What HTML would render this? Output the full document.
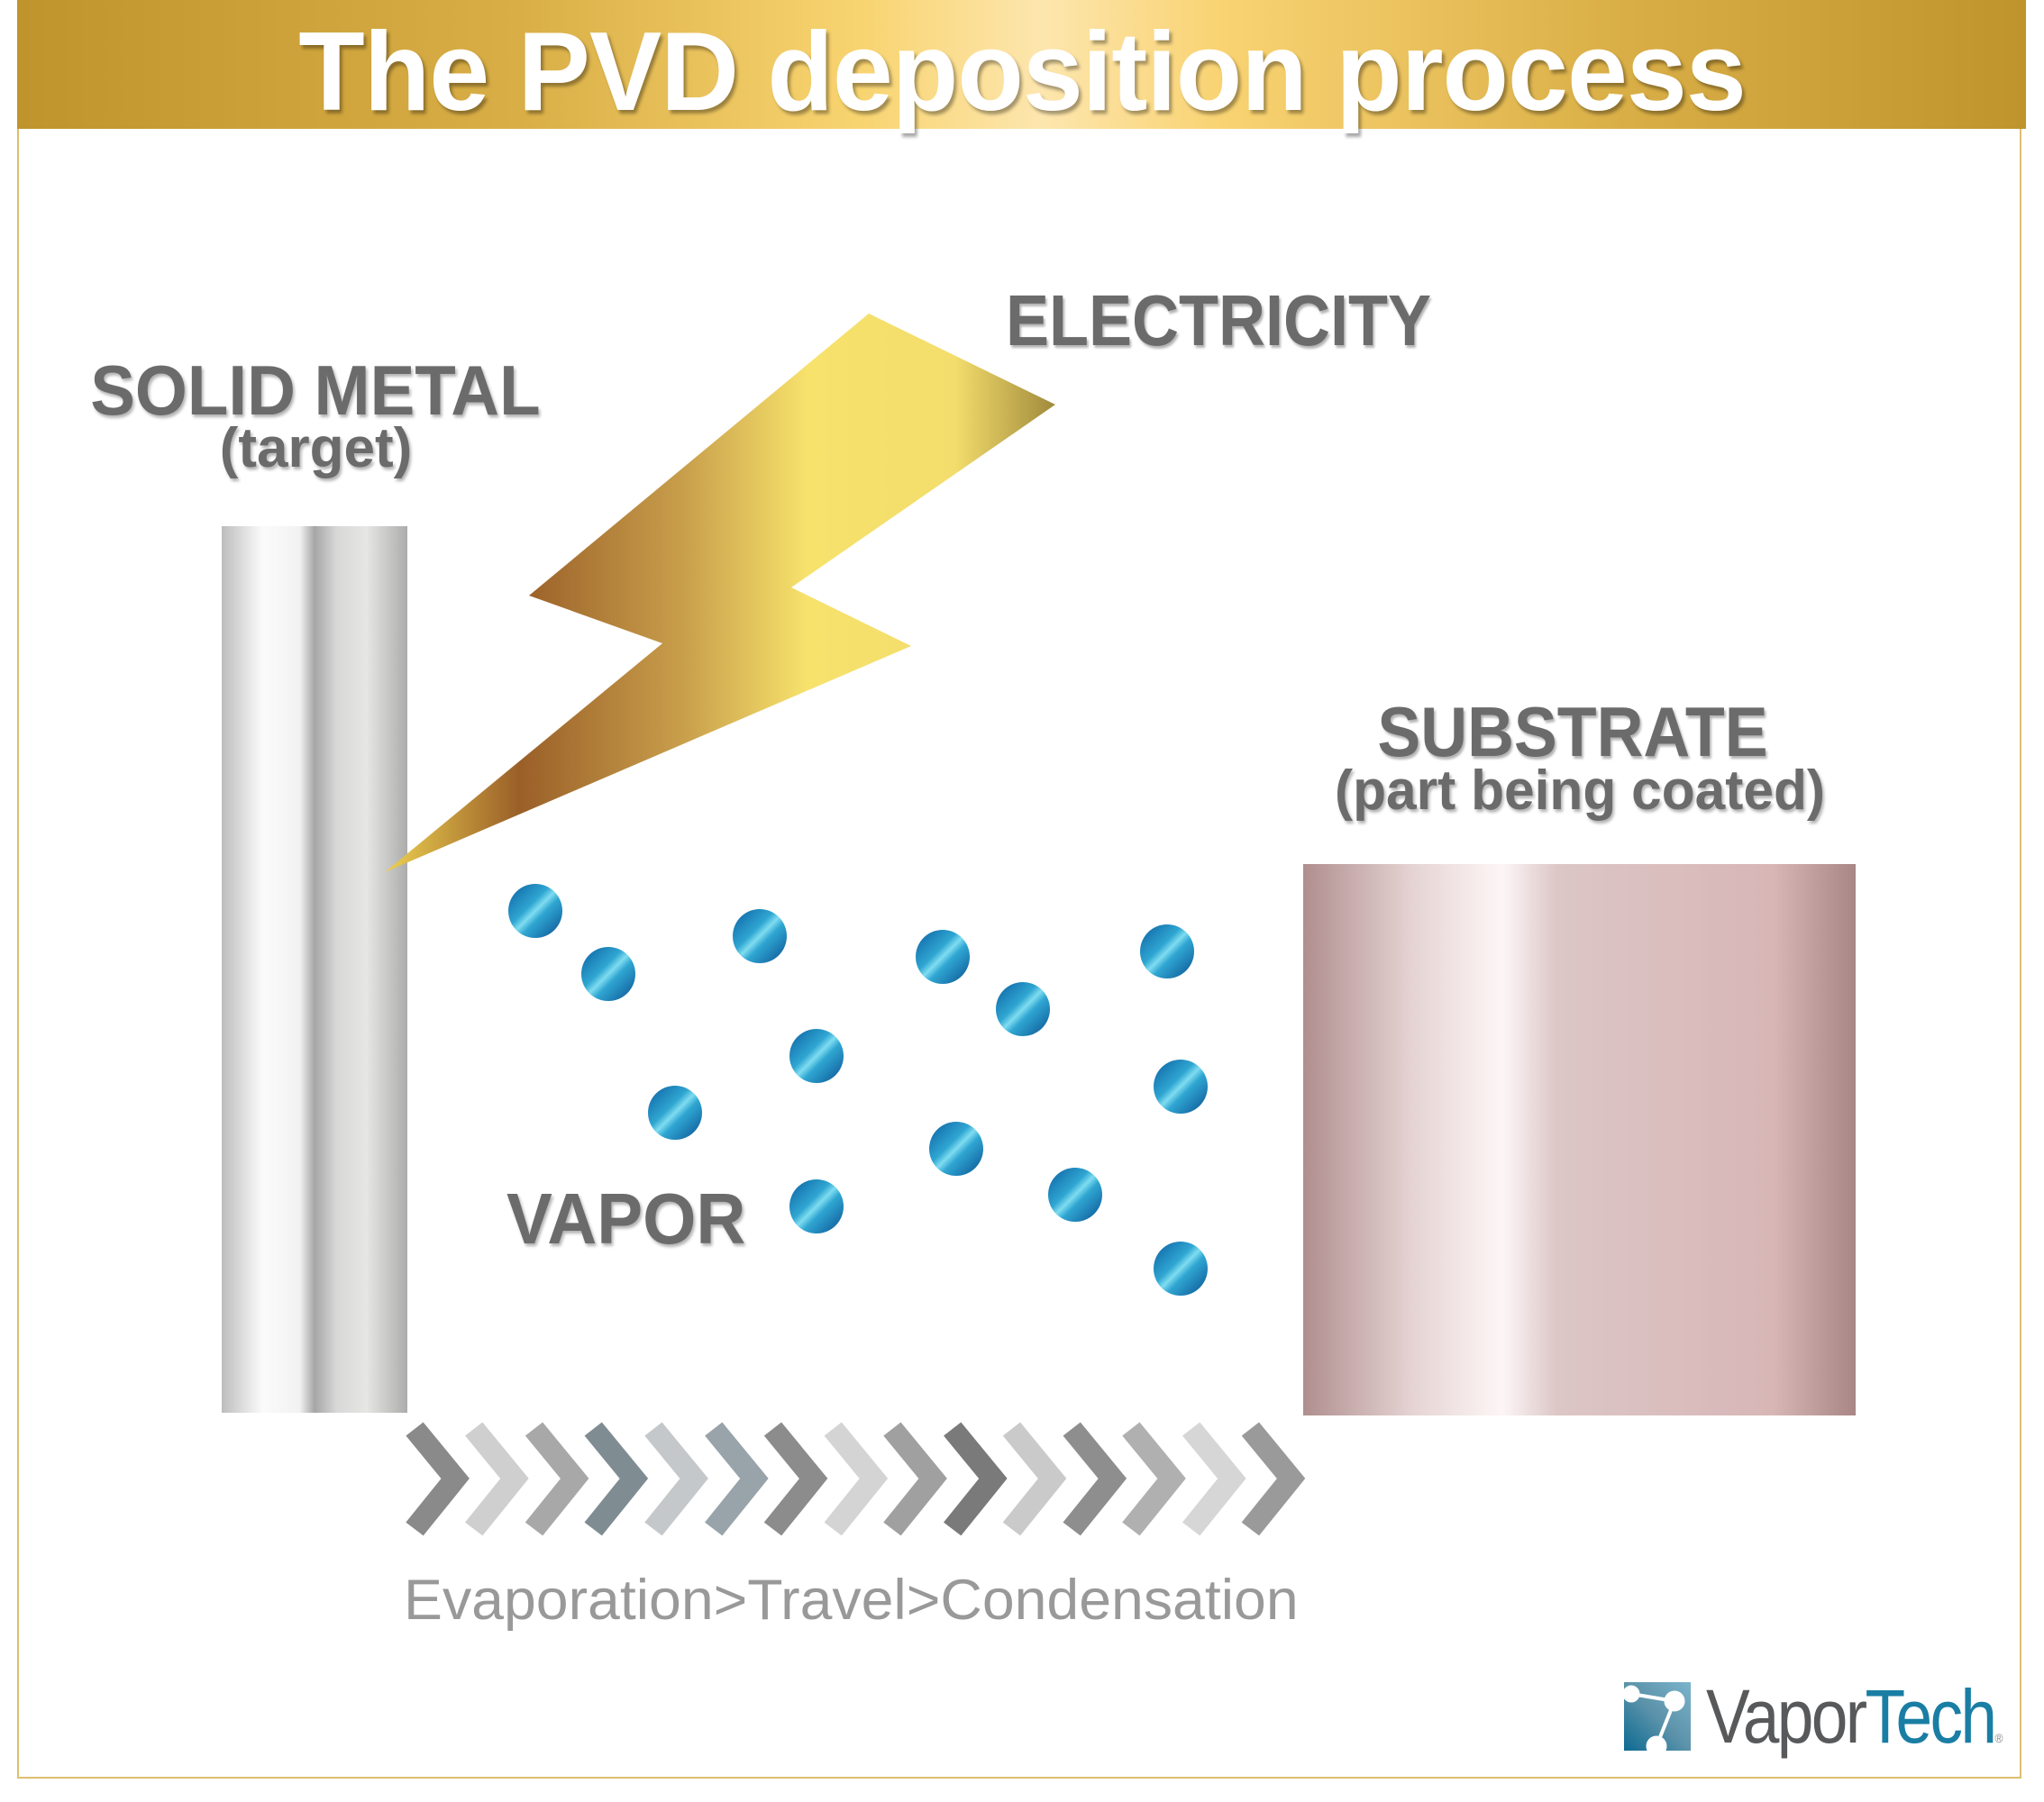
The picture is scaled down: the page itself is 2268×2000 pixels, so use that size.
<!DOCTYPE html>
<html><head><meta charset="utf-8"><style>
html,body{margin:0;padding:0;background:#fff;}
body{width:2268px;height:2000px;position:relative;overflow:hidden;font-family:"Liberation Sans",sans-serif;}
.t{position:absolute;white-space:nowrap;font-weight:bold;color:#6b6b6b;text-shadow:2px 3px 3px rgba(0,0,0,0.3);}
</style></head><body>
<div style="position:absolute;left:19px;top:0;width:2224px;height:1974px;border:2px solid #dcc070;border-top:none;box-sizing:border-box;"></div>
<div style="position:absolute;left:19px;top:0;width:2229px;height:143px;background:linear-gradient(90deg,#c0942c 0%,#d9ae46 25%,#f8d470 42%,#fde6ae 51%,#f9d372 60%,#d9ae46 80%,#c0942c 100%);"></div>
<div class="t" style="left:0;width:2268px;text-align:center;top:10px;font-size:124px;color:#fff;line-height:140px;text-shadow:3px 4px 4px rgba(0,0,0,0.35);letter-spacing:-1px;transform:scaleX(0.97);transform-origin:1133px 0;">The PVD deposition process</div>

<svg width="2268" height="2000" style="position:absolute;left:0;top:0">
<defs>
<linearGradient id="sil" x1="0" x2="1"><stop offset="0" stop-color="#bdbdbd"/><stop offset="0.22" stop-color="#fbfbfb"/><stop offset="0.42" stop-color="#f2f2f2"/><stop offset="0.5" stop-color="#a6a6a6"/><stop offset="0.62" stop-color="#d8d8d8"/><stop offset="0.78" stop-color="#e6e6e4"/><stop offset="1" stop-color="#acacac"/></linearGradient>
<linearGradient id="rose" x1="0" x2="1"><stop offset="0" stop-color="#b08e8e"/><stop offset="0.2" stop-color="#e6d4d4"/><stop offset="0.36" stop-color="#fdf6f6"/><stop offset="0.46" stop-color="#dcc6c6"/><stop offset="0.85" stop-color="#d8b6b6"/><stop offset="1" stop-color="#a98686"/></linearGradient>
<linearGradient id="bolt" gradientUnits="userSpaceOnUse" x1="427" y1="0" x2="1171" y2="0"><stop offset="0" stop-color="#ecd050"/><stop offset="0.2" stop-color="#9a5f28"/><stop offset="0.45" stop-color="#c9a04c"/><stop offset="0.63" stop-color="#f7e26c"/><stop offset="0.85" stop-color="#f3dd6c"/><stop offset="1" stop-color="#a08a3c"/></linearGradient>
<linearGradient id="dl" x1="0" y1="0" x2="1" y2="1"><stop offset="0" stop-color="#0b5ea0"/><stop offset="0.4" stop-color="#2fa6d2"/><stop offset="0.5" stop-color="#7fdcf0"/><stop offset="0.6" stop-color="#2fa6d2"/><stop offset="1" stop-color="#0a4f90"/></linearGradient>
<linearGradient id="logo" x1="0" y1="1" x2="1" y2="0"><stop offset="0" stop-color="#0c6a92"/><stop offset="0.5" stop-color="#5c93aa"/><stop offset="1" stop-color="#7bb3cc"/></linearGradient>
</defs>
<rect x="246" y="584" width="206" height="984" fill="url(#sil)"/>
<rect x="1446" y="959" width="613" height="612" fill="url(#rose)"/>
<polygon points="964,348 1171,449 878,652 1011,717 427,968 735,714 587,661" fill="url(#bolt)"/>
<g fill="url(#dl)">
<circle cx="594" cy="1011" r="30"/><circle cx="675" cy="1081" r="30"/><circle cx="843" cy="1039" r="30"/>
<circle cx="1046" cy="1062" r="30"/><circle cx="1135" cy="1120" r="30"/><circle cx="1295" cy="1056" r="30"/>
<circle cx="906" cy="1172" r="30"/><circle cx="1310" cy="1206" r="30"/><circle cx="749" cy="1235" r="30"/>
<circle cx="1061" cy="1275" r="30"/><circle cx="1193" cy="1326" r="30"/><circle cx="906" cy="1339" r="30"/><circle cx="1310" cy="1408" r="30"/>
</g>
<g fill="none" stroke-width="24" stroke-linecap="butt" transform="translate(460,0) scale(1.027,1) translate(-460,0)">
<polyline points="460,1586 504,1641 460,1697" stroke="#8a8a8a"/>
<polyline points="524,1586 568,1641 524,1697" stroke="#cfcfcf"/>
<polyline points="589,1586 633,1641 589,1697" stroke="#a8a8a8"/>
<polyline points="653,1586 697,1641 653,1697" stroke="#7f8c92"/>
<polyline points="718,1586 762,1641 718,1697" stroke="#c4c8ca"/>
<polyline points="783,1586 827,1641 783,1697" stroke="#98a4aa"/>
<polyline points="847,1586 891,1641 847,1697" stroke="#8c8c8c"/>
<polyline points="912,1586 956,1641 912,1697" stroke="#d4d4d4"/>
<polyline points="976,1586 1020,1641 976,1697" stroke="#a0a0a0"/>
<polyline points="1041,1586 1085,1641 1041,1697" stroke="#7a7a7a"/>
<polyline points="1105,1586 1149,1641 1105,1697" stroke="#cacaca"/>
<polyline points="1170,1586 1214,1641 1170,1697" stroke="#8e8e8e"/>
<polyline points="1234,1586 1278,1641 1234,1697" stroke="#b0b0b0"/>
<polyline points="1299,1586 1343,1641 1299,1697" stroke="#d6d6d6"/>
<polyline points="1363,1586 1407,1641 1363,1697" stroke="#9a9a9a"/>
</g>
<rect x="1802" y="1867" width="74" height="76" fill="url(#logo)"/>
<g fill="#fff" stroke="#fff"><circle cx="1810" cy="1880" r="9"/><circle cx="1858" cy="1888" r="11"/><circle cx="1838" cy="1938" r="11"/><line x1="1810" y1="1880" x2="1858" y2="1888" stroke-width="4"/><line x1="1858" y1="1888" x2="1838" y2="1938" stroke-width="4"/></g>
</svg>

<div class="t" style="left:1116px;top:306px;font-size:80px;line-height:100px;transform:scaleX(0.9);transform-origin:0 0;">ELECTRICITY</div>
<div class="t" style="left:89px;top:383px;font-size:78px;line-height:100px;width:499px;text-align:center;transform:scaleX(0.955);transform-origin:250px 0;">SOLID METAL</div>
<div class="t" style="left:101px;top:458px;font-size:62px;line-height:80px;width:499px;text-align:center;">(target)</div>
<div class="t" style="left:1480px;top:762px;font-size:78px;line-height:100px;width:530px;text-align:center;transform:scaleX(0.92);transform-origin:265px 0;">SUBSTRATE</div>
<div class="t" style="left:1453px;top:838px;font-size:62px;line-height:80px;width:600px;text-align:center;transform:scaleX(0.975);transform-origin:300px 0;">(part being coated)</div>
<div class="t" style="left:562px;top:1303px;font-size:80px;line-height:100px;transform:scaleX(0.953);transform-origin:0 0;">VAPOR</div>
<div style="position:absolute;left:448px;top:1736px;font-size:63px;line-height:80px;color:#999;white-space:nowrap;transform:scaleX(1.022);transform-origin:0 0;">Evaporation&gt;Travel&gt;Condensation</div>
<div style="position:absolute;left:1893px;top:1855px;font-size:84px;line-height:100px;white-space:nowrap;letter-spacing:-3px;transform:scaleX(0.87);transform-origin:0 0;"><span style="color:#58595b;">Vapor</span><span style="color:#1a7ea4;">Tech</span><span style="font-size:14px;color:#888;letter-spacing:0">®</span></div>
</body></html>
